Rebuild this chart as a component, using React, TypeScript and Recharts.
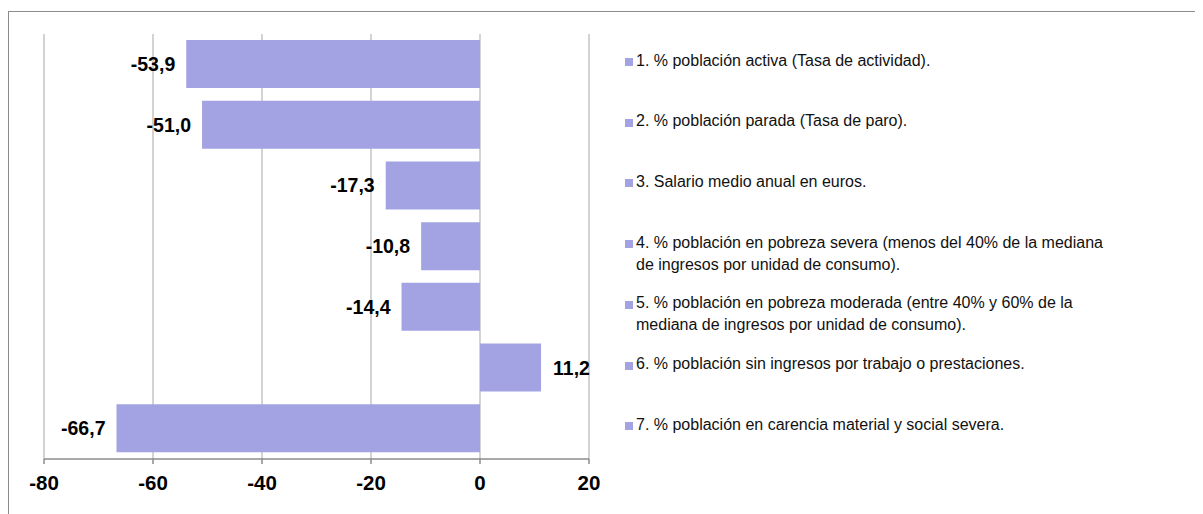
import React from "react";
import { BarChart, Bar, XAxis, YAxis, CartesianGrid, LabelList } from "recharts";

const categories = ["1", "2", "3", "4", "5", "6", "7"];
const values = [-53.9, -51.0, -17.3, -10.8, -14.4, 11.2, -66.7];
const legendLabels = [
  "1. % población activa (Tasa de actividad).",
  "2. % población parada (Tasa de paro).",
  "3. Salario medio anual en euros.",
  "4. % población en pobreza severa (menos del 40% de la mediana\nde ingresos por unidad de consumo).",
  "5. % población en pobreza moderada (entre 40% y 60% de la\nmediana de ingresos por unidad de consumo).",
  "6. % población sin ingresos por trabajo o prestaciones.",
  "7. % población en carencia material y social severa.",
];
const xTicks = [-80, -60, -40, -20, 0, 20];

const BAR_COLOR = "#a3a3e3";
const FONT = "'Liberation Sans', Arial, sans-serif";

const data = categories.map((c, i) => ({ name: c, value: values[i] }));

const fmt = (v: number) => v.toFixed(1).replace(".", ",");

const ValueLabel = (props: any) => {
  const { x, y, width, height, value } = props;
  const left = Math.min(x, x + width);
  const right = Math.max(x, x + width);
  const cy = y + height / 2;
  const neg = value < 0;
  return (
    <text
      x={neg ? left - 11 : right + 12}
      y={cy}
      dy="0.36em"
      textAnchor={neg ? "end" : "start"}
      fontFamily={FONT}
      fontSize={19.5}
      fontWeight="bold"
      fill="#000"
    >
      {fmt(value)}
    </text>
  );
};

export default function App() {
  const rowH = 425 / categories.length;
  return (
    <div style={{ position: "relative", width: 1195, height: 506, fontFamily: FONT }}>
      <div
        style={{
          position: "absolute",
          left: 0,
          top: 3,
          width: 1194,
          height: 510,
          borderTop: "1px solid #8c8c8c",
          borderLeft: "1px solid #8c8c8c",
        }}
      />
      <div style={{ position: "absolute", left: 0, top: 0 }}>
        <BarChart
          width={600}
          height={506}
          data={data}
          layout="vertical"
          margin={{ top: 26, right: 19, left: 36, bottom: 15 }}
          barSize={48}
        >
          <CartesianGrid horizontal={false} stroke="#c4c4c4" strokeWidth={1.5} />
          <XAxis
            type="number"
            domain={[-80, 20]}
            ticks={xTicks}
            interval={0}
            height={40}
            axisLine={{ stroke: "#8c8c8c", strokeWidth: 1.5 }}
            tickLine={{ stroke: "#8c8c8c", strokeWidth: 1.5 }}
            tickSize={5}
            tickMargin={11}
            tick={{ fill: "#000", fontSize: 20.5, fontWeight: "bold", fontFamily: FONT }}
          />
          <YAxis type="category" dataKey="name" hide />
          <Bar dataKey="value" fill={BAR_COLOR} isAnimationActive={false}>
            <LabelList dataKey="value" content={<ValueLabel />} />
          </Bar>
        </BarChart>
      </div>
      <div style={{ position: "absolute", left: 617, top: 26, width: 580 }}>
        {legendLabels.map((label, i) => (
          <div
            key={i}
            style={{
              height: rowH,
              boxSizing: "border-box",
              paddingTop: 17,
              display: "flex",
              alignItems: "flex-start",
            }}
          >
            <div
              style={{
                width: 8,
                height: 8,
                background: BAR_COLOR,
                marginTop: 7,
                marginRight: 3,
                flexShrink: 0,
              }}
            />
            <div
              style={{
                fontSize: 16,
                lineHeight: "22px",
                color: "#111",
                whiteSpace: "pre-line",
                marginTop: -1.5,
              }}
            >
              {label}
            </div>
          </div>
        ))}
      </div>
    </div>
  );
}
